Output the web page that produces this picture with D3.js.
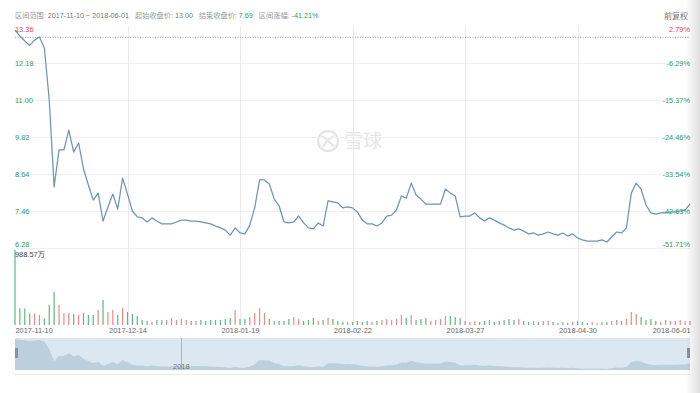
<!DOCTYPE html>
<html>
<head>
<meta charset="utf-8">
<script src="https://cdn.jsdelivr.net/npm/d3@7"></script>
<style>
    body { margin: 0; background: #fff; }
    svg { display: block; font-family: "Liberation Sans", "Noto Sans CJK SC", sans-serif; }
</style>
</head>
<body>
<svg id="chart" width="700" height="393"></svg>
<script>
    // trading days shown in the range
    const dates = [
        "2017-11-10", "2017-11-13", "2017-11-14", "2017-11-15", "2017-11-16", "2017-11-17",
        "2017-11-20", "2017-11-21", "2017-11-22", "2017-11-24", "2017-11-27", "2017-11-28",
        "2017-11-29", "2017-11-30", "2017-12-01", "2017-12-04", "2017-12-05", "2017-12-06",
        "2017-12-07", "2017-12-08", "2017-12-11", "2017-12-12", "2017-12-13", "2017-12-14",
        "2017-12-15", "2017-12-18", "2017-12-19", "2017-12-20", "2017-12-21", "2017-12-22",
        "2017-12-26", "2017-12-27", "2017-12-28", "2017-12-29", "2018-01-02", "2018-01-03",
        "2018-01-04", "2018-01-05", "2018-01-08", "2018-01-09", "2018-01-10", "2018-01-11",
        "2018-01-12", "2018-01-16", "2018-01-17", "2018-01-18", "2018-01-19", "2018-01-22",
        "2018-01-23", "2018-01-24", "2018-01-25", "2018-01-26", "2018-01-29", "2018-01-30",
        "2018-01-31", "2018-02-01", "2018-02-02", "2018-02-05", "2018-02-06", "2018-02-07",
        "2018-02-08", "2018-02-09", "2018-02-12", "2018-02-13", "2018-02-14", "2018-02-15",
        "2018-02-16", "2018-02-20", "2018-02-21", "2018-02-22", "2018-02-23", "2018-02-26",
        "2018-02-27", "2018-02-28", "2018-03-01", "2018-03-02", "2018-03-05", "2018-03-06",
        "2018-03-07", "2018-03-08", "2018-03-09", "2018-03-12", "2018-03-13", "2018-03-14",
        "2018-03-15", "2018-03-16", "2018-03-19", "2018-03-20", "2018-03-21", "2018-03-22",
        "2018-03-23", "2018-03-26", "2018-03-27", "2018-03-28", "2018-03-29", "2018-04-02",
        "2018-04-03", "2018-04-04", "2018-04-05", "2018-04-06", "2018-04-09", "2018-04-10",
        "2018-04-11", "2018-04-12", "2018-04-13", "2018-04-16", "2018-04-17", "2018-04-18",
        "2018-04-19", "2018-04-20", "2018-04-23", "2018-04-24", "2018-04-25", "2018-04-26",
        "2018-04-27", "2018-04-30", "2018-05-01", "2018-05-02", "2018-05-03", "2018-05-04",
        "2018-05-07", "2018-05-08", "2018-05-09", "2018-05-10", "2018-05-11", "2018-05-14",
        "2018-05-15", "2018-05-16", "2018-05-17", "2018-05-18", "2018-05-21", "2018-05-22",
        "2018-05-23", "2018-05-24", "2018-05-25", "2018-05-29", "2018-05-30", "2018-05-31",
        "2018-06-01"
    ];

    const closes = [
        13.23, 13.04, 12.88, 12.74, 12.91, 13.01, 12.66, 11.00, 8.23, 9.41,
        9.41, 10.04, 9.34, 9.63, 8.80, 8.29, 7.81, 8.03, 7.14, 7.59,
        8.00, 7.52, 8.51, 8.00, 7.46, 7.27, 7.24, 7.11, 7.24, 7.14,
        7.05, 7.05, 7.05, 7.11, 7.17, 7.17, 7.14, 7.14, 7.11, 7.08,
        7.05, 6.98, 6.92, 6.85, 6.69, 6.92, 6.76, 6.73, 7.01, 7.56,
        8.45, 8.45, 8.32, 7.84, 7.62, 7.11, 7.08, 7.11, 7.30, 7.08,
        6.92, 6.89, 7.08, 6.98, 7.78, 7.75, 7.72, 7.56, 7.59, 7.56,
        7.43, 7.17, 7.05, 7.05, 6.98, 7.08, 7.30, 7.33, 7.49, 7.94,
        7.87, 8.35, 7.97, 7.84, 7.68, 7.68, 7.68, 7.68, 8.16, 8.03,
        7.94, 7.27, 7.30, 7.30, 7.40, 7.24, 7.14, 7.24, 7.17, 7.08,
        7.01, 6.92, 6.85, 6.89, 6.82, 6.73, 6.76, 6.69, 6.73, 6.79,
        6.73, 6.69, 6.76, 6.66, 6.73, 6.60, 6.54, 6.50, 6.50, 6.50,
        6.54, 6.47, 6.63, 6.79, 6.76, 6.92, 8.03, 8.35, 8.16, 7.65,
        7.40, 7.36, 7.40, 7.40, 7.43, 7.43, 7.46, 7.49, 7.69
    ];

    // volume, in 万
    const volumes = [
        988.57, 220, 220, 154, 154, 132, 88, 264, 435, 264,
        158, 158, 145, 132, 158, 132, 132, 198, 330, 171,
        198, 132, 224, 171, 145, 119, 66, 53, 40, 66,
        66, 66, 92, 66, 79, 66, 53, 53, 66, 53,
        66, 66, 66, 79, 92, 198, 79, 79, 105, 158,
        224, 158, 79, 53, 53, 53, 79, 105, 79, 53,
        66, 92, 53, 66, 92, 79, 53, 40, 40, 40,
        53, 40, 53, 40, 53, 66, 79, 66, 79, 132,
        92, 132, 66, 79, 92, 53, 66, 79, 119, 119,
        105, 92, 53, 40, 53, 40, 53, 66, 40, 53,
        66, 79, 66, 79, 53, 40, 53, 40, 53, 53,
        40, 26, 40, 26, 40, 53, 40, 26, 40, 26,
        40, 40, 53, 66, 53, 79, 171, 145, 105, 66,
        79, 53, 40, 66, 53, 53, 66, 53, 53
    ];

    const priceTicks = [6.28, 7.46, 8.64, 9.82, 11.00, 12.18, 13.36];
    const pctTicks = ["-51.71%", "-42.63%", "-33.54%", "-24.46%", "-15.37%", "-6.29%", "2.79%"];
    const dateTicks = ["2017-11-10", "2017-12-14", "2018-01-19", "2018-02-22", "2018-03-27", "2018-04-30", "2018-06-01"];

    const startClose = 13.00;
    const endClose = 7.69;
    const rangeChange = "-41.21%";
    const maxVolumeLabel = "988.57万";

    const RED = "#e0474c";
    const GREEN = "#2e9e5b";
    const LINE = "#7093b8";

    const svg = d3.select("#chart");
    const left = 15, right = 690;

    const x = d3.scalePoint().domain(dates).range([left, right]);
    const y = d3.scaleLinear().domain([priceTicks[0], priceTicks[6]]).range([248, 26]);
    const yVol = d3.scaleLinear().domain([0, d3.max(volumes)]).range([325, 250]);

    // right-edge shadow
    const defs = svg.append("defs");
    const grad = defs.append("linearGradient").attr("id", "shade");
    grad.append("stop").attr("offset", "0").attr("stop-color", "#000").attr("stop-opacity", 0);
    grad.append("stop").attr("offset", "1").attr("stop-color", "#000").attr("stop-opacity", 0.13);

    // header
    const header = svg.append("text")
        .attr("x", left).attr("y", 18)
        .style("font-size", "7.2px").attr("fill", "#999");
    header.append("tspan").text("区间范围: ");
    header.append("tspan").attr("fill", "#777").text(`${dates[0]} ~ ${dates[dates.length - 1]}`);
    header.append("tspan").attr("dx", 6).text("起始收盘价: ");
    header.append("tspan").attr("fill", "#777").text(startClose.toFixed(2));
    header.append("tspan").attr("dx", 6).text("结束收盘价: ");
    header.append("tspan").attr("fill", GREEN).text(endClose.toFixed(2));
    header.append("tspan").attr("dx", 6).text("区间涨幅: ");
    header.append("tspan").attr("fill", GREEN).text(rangeChange);

    svg.append("text")
        .attr("x", 688).attr("y", 19)
        .attr("text-anchor", "end")
        .style("font-size", "8px").attr("fill", "#777")
        .text("前复权");

    // watermark
    const wm = svg.append("g").attr("fill", "none").attr("stroke", "#e6e6e6");
    wm.append("circle").attr("cx", 328).attr("cy", 141).attr("r", 10).attr("stroke-width", 2.4);
    wm.append("path").attr("d", "M322,136 Q328,141 334,146 M334,136 Q326,140 323,147").attr("stroke-width", 2.2);
    svg.append("text")
        .attr("x", 344).attr("y", 148)
        .style("font-size", "19px").attr("fill", "#e6e6e6")
        .text("雪球");

    // grid
    svg.append("g")
        .selectAll("line")
        .data(priceTicks.slice(0, 6))
        .join("line")
        .attr("x1", left).attr("x2", right)
        .attr("y1", d => y(d) + 0.5).attr("y2", d => y(d) + 0.5)
        .attr("stroke", "#f0f0f0");

    svg.append("g")
        .selectAll("line")
        .data(dateTicks.slice(1, 6))
        .join("line")
        .attr("x1", d => Math.round(x(d)) + 0.5).attr("x2", d => Math.round(x(d)) + 0.5)
        .attr("y1", 26).attr("y2", 325)
        .attr("stroke", "#ebebeb");

    // base price reference
    svg.append("line")
        .attr("x1", left).attr("x2", right)
        .attr("y1", y(startClose)).attr("y2", y(startClose))
        .attr("stroke", "#999")
        .attr("stroke-dasharray", "1,1.5");

    // price line
    svg.append("path")
        .datum(closes)
        .attr("fill", "none")
        .attr("stroke", LINE)
        .attr("stroke-width", 1.25)
        .attr("stroke-linejoin", "round")
        .attr("d", d3.line().x((d, i) => x(dates[i])).y(d => y(d)));

    // price axis (left)
    const leftAxis = svg.append("g")
        .attr("transform", `translate(${left},0)`)
        .call(d3.axisRight(y).tickValues(priceTicks).tickSize(0).tickPadding(0).tickFormat(d3.format(".2f")));
    leftAxis.select(".domain").remove();

    // percent axis (right)
    const rightAxis = svg.append("g")
        .attr("transform", `translate(${right},0)`)
        .call(d3.axisLeft(y).tickValues(priceTicks).tickSize(0).tickPadding(0)
            .tickFormat((d, i) => pctTicks[i]));
    rightAxis.select(".domain").remove();

    [leftAxis, rightAxis].forEach(ax => {
        ax.selectAll("text")
            .style("font-size", "7.4px")
            .style("font-family", "Liberation Sans, sans-serif")
            .attr("fill", (d, i) => i === 6 ? RED : GREEN)
            .attr("dy", (d, i) => i === 0 ? "-0.2em" : i === 6 ? "0.75em" : "0.32em");
    });

    // volume
    svg.append("g")
        .selectAll("rect")
        .data(volumes)
        .join("rect")
        .attr("x", (d, i) => x(dates[i]) - 0.6)
        .attr("width", 1.2)
        .attr("y", d => yVol(d))
        .attr("height", d => 325 - yVol(d))
        .attr("fill", (d, i) => (i > 0 && closes[i] >= closes[i - 1]) ? "#e9898b" : "#5fb87f");

    svg.append("text")
        .attr("x", left).attr("y", 257)
        .style("font-size", "7.4px").attr("fill", "#444")
        .text(maxVolumeLabel);

    // date axis
    const xAxis = svg.append("g")
        .attr("transform", "translate(0,326)")
        .call(d3.axisBottom(x).tickValues(dateTicks).tickSize(0).tickPadding(2));
    xAxis.select(".domain").remove();
    xAxis.selectAll("text")
        .style("font-size", "7.4px")
        .style("font-family", "Liberation Sans, sans-serif")
        .attr("fill", "#666")
        .attr("text-anchor", (d, i) => i === 0 ? "start" : i === dateTicks.length - 1 ? "end" : "middle");

    // navigator
    const navTop = 338, navBottom = 370;
    const yNav = d3.scaleLinear().domain(d3.extent(closes)).range([navBottom - 1, navTop + 1]);
    svg.append("rect")
        .attr("x", left).attr("y", navTop)
        .attr("width", right - left).attr("height", navBottom - navTop)
        .attr("fill", "#dbe7f1");
    svg.append("path")
        .datum(closes)
        .attr("fill", "#bccfdd")
        .attr("d", d3.area().x((d, i) => x(dates[i])).y0(navBottom).y1(d => yNav(d)));
    svg.append("line")
        .attr("x1", left).attr("x2", right)
        .attr("y1", navBottom + 4.5).attr("y2", navBottom + 4.5)
        .attr("stroke", "#e8e8e8");

    const firstOf2018 = dates.find(d => d.startsWith("2018"));
    svg.append("line")
        .attr("x1", Math.round(x(firstOf2018)) + 0.5).attr("x2", Math.round(x(firstOf2018)) + 0.5)
        .attr("y1", navTop).attr("y2", navBottom)
        .attr("stroke", "#a9b4bd");
    svg.append("text")
        .attr("x", x(firstOf2018)).attr("y", navBottom - 1)
        .attr("text-anchor", "middle")
        .style("font-size", "7.4px").attr("fill", "#777")
        .text("2018");

    // navigator handles
    [left, right - 3].forEach(hx => {
        svg.append("rect")
            .attr("x", hx).attr("y", 348)
            .attr("width", 3).attr("height", 10)
            .attr("fill", "#8a9199");
    });

    svg.append("rect")
        .attr("x", 686).attr("y", 0)
        .attr("width", 14).attr("height", 393)
        .attr("fill", "url(#shade)");
</script>
</body>
</html>
